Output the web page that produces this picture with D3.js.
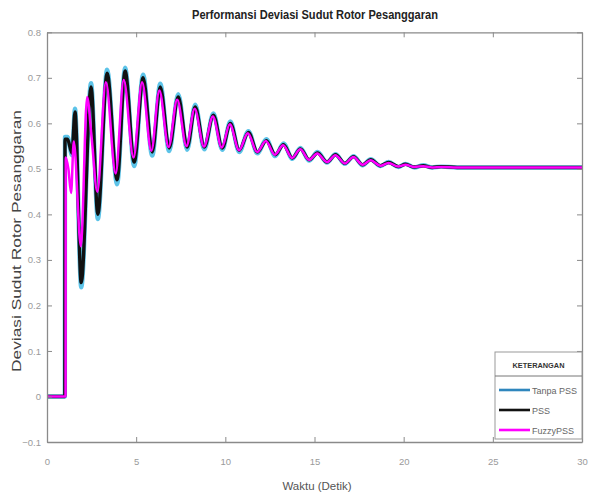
<!DOCTYPE html>
<html>
<head>
<meta charset="utf-8">
<script src="https://cdn.jsdelivr.net/npm/d3@7"></script>
<style>
  html, body { margin: 0; padding: 0; background: #fff; }
  svg { display: block; font-family: "Liberation Sans", Arial, sans-serif; }
</style>
</head>
<body>
<svg id="chart" width="589" height="497"></svg>
<script>
// Rotor angle deviation responses (Pesanggaran generator), time in seconds
const timePSS = [0, 1.0, 1.01, 1.15, 1.4, 1.57, 1.92, 2.47, 2.85, 3.37, 3.93, 4.38, 4.89, 5.39, 5.9, 6.35, 6.85, 7.36, 7.86, 8.31, 8.82, 9.33, 9.83, 10.28, 10.78, 11.29, 11.8, 12.3, 12.8, 13.26, 13.76, 14.21, 14.7, 15.17, 15.7, 16.18, 16.7, 17.19, 17.7, 18.15, 18.7, 19.16, 19.7, 20.1, 20.6, 21.1, 21.6, 22.1, 23, 30];
const valuesTanpaPSS = [0, 0, 0.57, 0.57, 0.53, 0.632, 0.24, 0.688, 0.39, 0.718, 0.466, 0.722, 0.506, 0.707, 0.529, 0.687, 0.539, 0.664, 0.542, 0.641, 0.543, 0.622, 0.542, 0.604, 0.537, 0.583, 0.534, 0.565, 0.528, 0.556, 0.522, 0.546, 0.518, 0.537, 0.514, 0.532, 0.511, 0.528, 0.508, 0.521, 0.506, 0.515, 0.504, 0.511, 0.503, 0.508, 0.503, 0.505, 0.503, 0.503];
const valuesPSS = [0, 0, 0.565, 0.565, 0.535, 0.625, 0.25, 0.68, 0.40, 0.71, 0.476, 0.715, 0.515, 0.70, 0.537, 0.68, 0.546, 0.658, 0.548, 0.636, 0.548, 0.618, 0.546, 0.60, 0.541, 0.58, 0.537, 0.562, 0.531, 0.553, 0.524, 0.544, 0.52, 0.535, 0.515, 0.531, 0.512, 0.527, 0.509, 0.52, 0.507, 0.514, 0.505, 0.51, 0.504, 0.507, 0.503, 0.505, 0.503, 0.503];
const timeFuzzy = [0, 1.04, 1.05, 1.2, 1.35, 1.5, 1.9, 2.25, 2.5, 2.82, 3.3, 3.85, 4.3, 4.85, 5.33, 5.85, 6.3, 6.82, 7.3, 7.82, 8.28, 8.8, 9.3, 9.8, 10.25, 10.77, 11.26, 11.78, 12.27, 12.78, 13.24, 13.74, 14.2, 14.7, 15.15, 15.7, 16.17, 16.7, 17.18, 17.7, 18.14, 18.7, 19.15, 19.7, 20.1, 20.6, 21.1, 21.6, 22.1, 23, 30];
const valuesFuzzyPSS = [0, 0, 0.525, 0.5, 0.447, 0.56, 0.33, 0.658, 0.57, 0.45, 0.69, 0.49, 0.695, 0.525, 0.69, 0.54, 0.672, 0.548, 0.652, 0.55, 0.632, 0.549, 0.615, 0.547, 0.598, 0.541, 0.578, 0.537, 0.561, 0.531, 0.552, 0.524, 0.543, 0.52, 0.534, 0.515, 0.53, 0.512, 0.526, 0.509, 0.519, 0.507, 0.513, 0.505, 0.509, 0.504, 0.506, 0.503, 0.504, 0.503, 0.503];

const seriesNames = ["Tanpa PSS", "PSS", "FuzzyPSS"];
const seriesColors = ["#5cc3e8", "#111111", "#ff00ff"];
const seriesWidths = [4.4, 3.4, 2.5];

const xTicks = [0, 5, 10, 15, 20, 25, 30];
const yTicks = [-0.1, 0, 0.1, 0.2, 0.3, 0.4, 0.5, 0.6, 0.7, 0.8];

const titleText = "Performansi Deviasi Sudut Rotor Pesanggaran";
const xLabelText = "Waktu (Detik)";
const yLabelText = "Deviasi Sudut Rotor Pesanggaran";
const legendTitle = "KETERANGAN";

const svg = d3.select("#chart");
const plotLeft = 47, plotRight = 582, plotTop = 32.3, plotBottom = 442;

const x = d3.scaleLinear().domain([0, 30]).range([plotLeft, plotRight]);
const y = d3.scaleLinear().domain([-0.1, 0.8]).range([plotBottom, plotTop]);

const axisColor = "#8a8a8a";
const tickLabelColor = "#9a9a9a";

// plotted responses
const series = [
  { t: timePSS, v: valuesTanpaPSS },
  { t: timePSS, v: valuesPSS },
  { t: timeFuzzy, v: valuesFuzzyPSS }
];
const line = d3.line()
  .x(d => x(d[0]))
  .y(d => y(d[1]))
  .curve(d3.curveMonotoneX);

const plot = svg.append("g");
series.forEach((s, i) => {
  const pts = s.t.map((t, k) => [t, s.v[k]]);
  plot.append("path")
    .datum(pts)
    .attr("fill", "none")
    .attr("stroke", seriesColors[i])
    .attr("stroke-width", seriesWidths[i])
    .attr("stroke-linejoin", "round")
    .attr("d", line);
});

// axes with inward ticks on all four sides
function styleAxis(g) {
  g.selectAll(".domain").attr("stroke", axisColor).attr("stroke-width", 1.3);
  g.selectAll(".tick line").attr("stroke", axisColor).attr("stroke-width", 1);
  g.selectAll(".tick text").attr("fill", tickLabelColor).attr("font-size", 9.5);
}
const fmt = d => d3.format("")(Math.round(d * 10) / 10);

svg.append("g").attr("transform", `translate(0,${plotBottom})`)
  .call(d3.axisBottom(x).tickValues(xTicks).tickSize(-5).tickPadding(16).tickSizeOuter(0))
  .call(styleAxis);
svg.append("g").attr("transform", `translate(0,${plotTop})`)
  .call(d3.axisTop(x).tickValues(xTicks).tickSize(-5).tickFormat("").tickSizeOuter(0))
  .call(styleAxis);
svg.append("g").attr("transform", `translate(${plotLeft},0)`)
  .call(d3.axisLeft(y).tickValues(yTicks).tickSize(-5).tickPadding(6).tickFormat(fmt).tickSizeOuter(0))
  .call(styleAxis);
svg.append("g").attr("transform", `translate(${plotRight},0)`)
  .call(d3.axisRight(y).tickValues(yTicks).tickSize(-5).tickFormat("").tickSizeOuter(0))
  .call(styleAxis);

// titles
svg.append("text")
  .attr("x", 315).attr("y", 19)
  .attr("text-anchor", "middle")
  .attr("font-weight", "bold").attr("font-size", 12)
  .attr("fill", "#222")
  .attr("textLength", 246).attr("lengthAdjust", "spacingAndGlyphs")
  .text(titleText);

svg.append("text")
  .attr("x", 317).attr("y", 490)
  .attr("text-anchor", "middle")
  .attr("font-size", 11.5)
  .attr("fill", "#555")
  .text(xLabelText);

svg.append("text")
  .attr("transform", "translate(21,241) rotate(-90)")
  .attr("text-anchor", "middle")
  .attr("font-size", 13)
  .attr("fill", "#444")
  .attr("textLength", 262).attr("lengthAdjust", "spacingAndGlyphs")
  .text(yLabelText);

// legend
const lg = svg.append("g");
const lx0 = 495, lx1 = plotRight, ly0 = 352, ly1 = 439;
lg.append("rect")
  .attr("x", lx0).attr("y", ly0).attr("width", lx1 - lx0).attr("height", ly1 - ly0)
  .attr("fill", "#fff").attr("stroke", "#999").attr("stroke-width", 1);
lg.append("line")
  .attr("x1", lx0).attr("x2", lx1).attr("y1", 376).attr("y2", 376)
  .attr("stroke", "#777").attr("stroke-width", 1);
lg.append("text")
  .attr("x", (lx0 + lx1) / 2).attr("y", 368)
  .attr("text-anchor", "middle")
  .attr("font-weight", "bold").attr("font-size", 8)
  .attr("fill", "#333")
  .attr("textLength", 52).attr("lengthAdjust", "spacingAndGlyphs")
  .text(legendTitle);

const legendRows = [390, 410, 430];
seriesNames.forEach((name, i) => {
  lg.append("line")
    .attr("x1", 499).attr("x2", 530)
    .attr("y1", legendRows[i]).attr("y2", legendRows[i])
    .attr("stroke", i === 0 ? "#2f86bd" : seriesColors[i])
    .attr("stroke-width", 2.6);
  lg.append("text")
    .attr("x", 532).attr("y", legendRows[i] + 3.5)
    .attr("font-size", 9)
    .attr("fill", "#666")
    .text(name);
});
</script>
</body>
</html>
